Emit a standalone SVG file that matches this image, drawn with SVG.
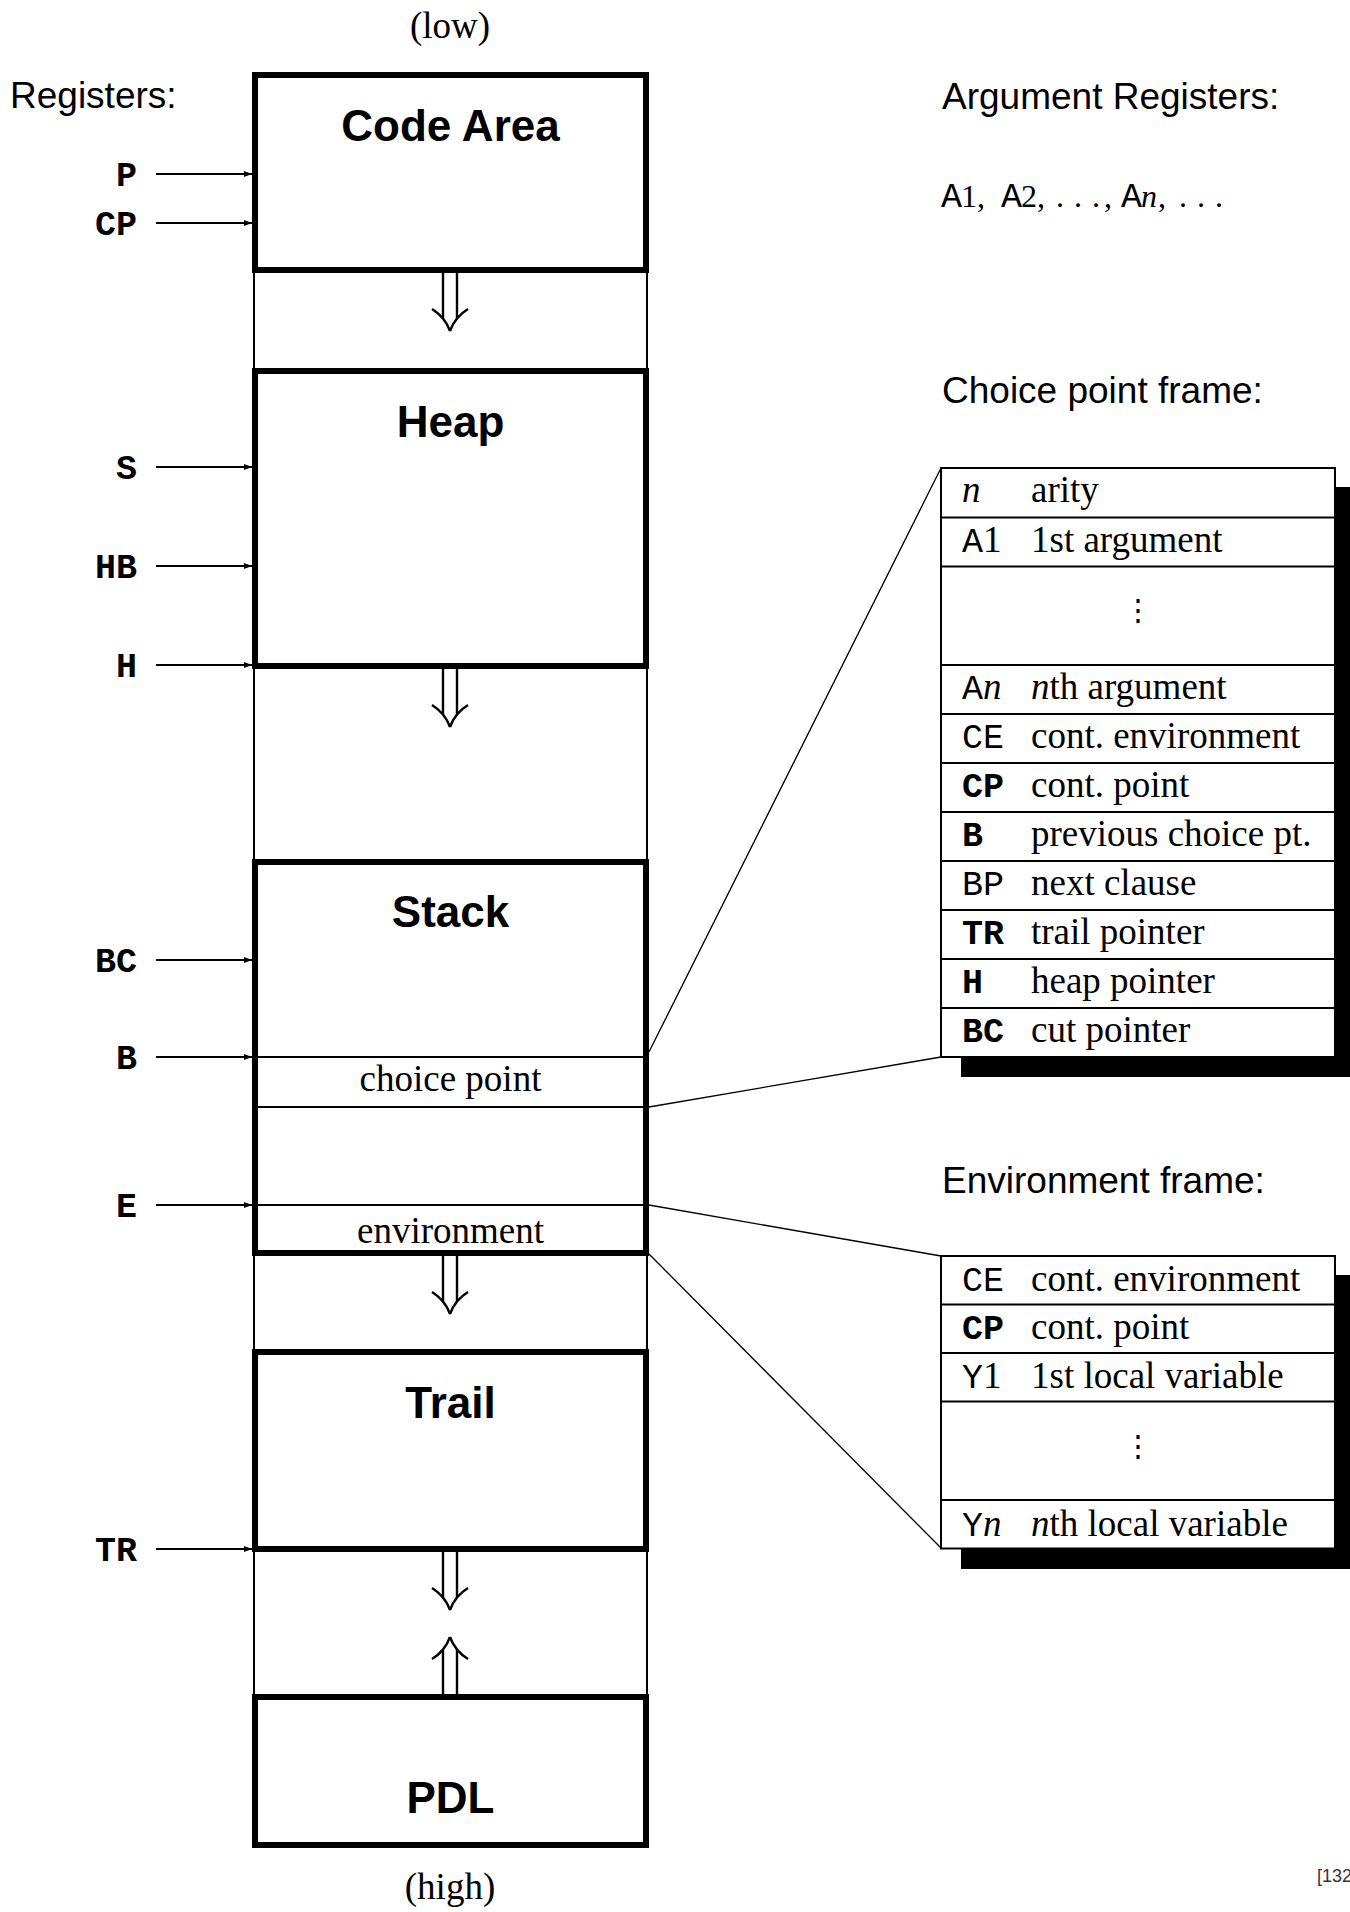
<svg xmlns="http://www.w3.org/2000/svg" width="1350" height="1912" viewBox="0 0 1350 1912">
  <style>
    .box { fill: none; stroke: #000; stroke-width: 6; }
    .thin { fill: none; stroke: #000; stroke-width: 2; }
    .lead { fill: none; stroke: #000; stroke-width: 1.3; }
    .reg { stroke: #000; stroke-width: 2; }
    .title { font-family: "Liberation Sans", Arial, sans-serif; font-weight: bold; font-size: 44px; text-anchor: middle; }
    .head { font-family: "Liberation Sans", Arial, sans-serif; font-size: 37px; }
    .rlabel { font-family: "Liberation Mono", "Courier New", monospace; font-weight: bold; font-size: 35px; text-anchor: end; }
    .rm { font-family: "Liberation Serif", "Times New Roman", serif; font-size: 37px; }
    .tt { font-family: "Liberation Mono", "Courier New", monospace; font-size: 35px; }
    .ttb { font-family: "Liberation Mono", "Courier New", monospace; font-size: 35px; font-weight: bold; }
    .it { font-family: "Liberation Serif", "Times New Roman", serif; font-style: italic; }
    .vdots { font-family: "DejaVu Serif", serif; font-size: 30px; text-anchor: middle; }
    .cell { fill: #fff; stroke: #000; stroke-width: 2; }
    .shadow { fill: #000; }
  </style>
  <defs>
    <marker id="ah" markerWidth="8" markerHeight="6" refX="8" refY="3" orient="auto" markerUnits="userSpaceOnUse">
      <path d="M0,0 L8,3 L0,6 Z" fill="#000"/>
    </marker>
    <!-- double-shafted growth arrow, tip at the origin pointing down -->
    <g id="dbl">
      <path d="M-7,-60 V-12.5 M7,-60 V-12.5 M-18,-22 Q-5,-14 0,0 M18,-22 Q5,-14 0,0" fill="none" stroke="#000" stroke-width="2.4"/>
    </g>
  </defs>

  <!-- address labels -->
  <text class="rm" x="450" y="38" text-anchor="middle">(low)</text>
  <text class="rm" x="450" y="1899" text-anchor="middle">(high)</text>
  <text class="head" x="10" y="108">Registers:</text>

  <!-- free space between areas -->
  <g id="gaps">
    <line class="thin" x1="254" y1="75" x2="254" y2="1845"/>
    <line class="thin" x1="647" y1="75" x2="647" y2="1845"/>
    <use href="#dbl" transform="translate(450,331)"/>
    <use href="#dbl" transform="translate(450,727)"/>
    <use href="#dbl" transform="translate(450,1314)"/>
    <use href="#dbl" transform="translate(450,1610)"/>
    <use href="#dbl" transform="translate(450,1637) scale(1,-1)"/>
  </g>

  <g id="code-area">
    <rect class="box" x="255" y="75" width="391" height="195"/>
    <text class="title" x="450.5" y="141">Code Area</text>
  </g>
  <g id="heap">
    <rect class="box" x="255" y="371" width="391" height="295"/>
    <text class="title" x="450.5" y="437">Heap</text>
  </g>
  <g id="stack">
    <rect class="box" x="255" y="862" width="391" height="391"/>
    <text class="title" x="450.5" y="927">Stack</text>
    <line class="thin" x1="255" y1="1057" x2="646" y2="1057"/>
    <line class="thin" x1="255" y1="1107" x2="646" y2="1107"/>
    <line class="thin" x1="255" y1="1205" x2="646" y2="1205"/>
    <text class="rm" x="450.5" y="1091" text-anchor="middle">choice point</text>
    <text class="rm" x="450.5" y="1243" text-anchor="middle">environment</text>
  </g>
  <g id="trail">
    <rect class="box" x="255" y="1352" width="391" height="197"/>
    <text class="title" x="450.5" y="1418">Trail</text>
  </g>
  <g id="pdl">
    <rect class="box" x="255" y="1697" width="391" height="148"/>
    <text class="title" x="450.5" y="1813">PDL</text>
  </g>

  <!-- register pointers -->
  <g id="registers">
    <text class="rlabel" x="137" y="186">P</text>
    <text class="rlabel" x="137" y="235">CP</text>
    <text class="rlabel" x="137" y="479">S</text>
    <text class="rlabel" x="137" y="578">HB</text>
    <text class="rlabel" x="137" y="677">H</text>
    <text class="rlabel" x="137" y="972">BC</text>
    <text class="rlabel" x="137" y="1069">B</text>
    <text class="rlabel" x="137" y="1217">E</text>
    <text class="rlabel" x="137" y="1561">TR</text>
  </g>
  <g id="connectors">
    <line class="reg" x1="156" y1="174" x2="252" y2="174" marker-end="url(#ah)"/>
    <line class="reg" x1="156" y1="223" x2="252" y2="223" marker-end="url(#ah)"/>
    <line class="reg" x1="156" y1="467" x2="252" y2="467" marker-end="url(#ah)"/>
    <line class="reg" x1="156" y1="566" x2="252" y2="566" marker-end="url(#ah)"/>
    <line class="reg" x1="156" y1="665" x2="252" y2="665" marker-end="url(#ah)"/>
    <line class="reg" x1="156" y1="960" x2="252" y2="960" marker-end="url(#ah)"/>
    <line class="reg" x1="156" y1="1057" x2="252" y2="1057" marker-end="url(#ah)"/>
    <line class="reg" x1="156" y1="1205" x2="252" y2="1205" marker-end="url(#ah)"/>
    <line class="reg" x1="156" y1="1549" x2="252" y2="1549" marker-end="url(#ah)"/>
    <!-- expansion lines from stack frames to their layouts -->
    <line class="lead" x1="649" y1="1052" x2="941" y2="468"/>
    <line class="lead" x1="649" y1="1107" x2="941" y2="1057"/>
    <line class="lead" x1="649" y1="1205" x2="941" y2="1256"/>
    <line class="lead" x1="649" y1="1254" x2="941" y2="1548"/>
  </g>

  <!-- argument registers -->
  <g id="arg-registers">
    <text class="head" x="942" y="109">Argument Registers:</text>
    <text class="rm" y="207" font-size="32"><tspan class="tt" font-size="33" x="941">A</tspan><tspan x="961" font-size="32">1,</tspan><tspan class="tt" font-size="33" x="1001">A</tspan><tspan x="1021" font-size="32">2,</tspan><tspan x="1056" font-size="32">.</tspan><tspan x="1074" font-size="32">.</tspan><tspan x="1092" font-size="32">.</tspan><tspan x="1104" font-size="32">,</tspan><tspan class="tt" font-size="33" x="1121">A</tspan><tspan class="it" x="1141" font-size="32">n</tspan><tspan x="1158" font-size="32">,</tspan><tspan x="1179" font-size="32">.</tspan><tspan x="1197" font-size="32">.</tspan><tspan x="1215" font-size="32">.</tspan></text>
  </g>

  <!-- choice point frame layout -->
  <g id="choice-point-frame">
    <text class="head" x="942" y="403">Choice point frame:</text>
    <rect class="shadow" x="961" y="487" width="400" height="590"/>
    <rect class="cell" x="941" y="468" width="394" height="589"/>
    <g class="thin">
      <line x1="941" y1="517.5" x2="1335" y2="517.5"/>
      <line x1="941" y1="566.5" x2="1335" y2="566.5"/>
      <line x1="941" y1="665" x2="1335" y2="665"/>
      <line x1="941" y1="714" x2="1335" y2="714"/>
      <line x1="941" y1="763" x2="1335" y2="763"/>
      <line x1="941" y1="812" x2="1335" y2="812"/>
      <line x1="941" y1="861" x2="1335" y2="861"/>
      <line x1="941" y1="910" x2="1335" y2="910"/>
      <line x1="941" y1="959" x2="1335" y2="959"/>
      <line x1="941" y1="1008" x2="1335" y2="1008"/>
    </g>
    <text class="rm" y="502"><tspan class="it" x="962">n</tspan><tspan x="1031">arity</tspan></text>
    <text class="rm" y="551.5"><tspan class="tt" x="962">A</tspan><tspan>1</tspan><tspan x="1031">1st argument</tspan></text>
    <text class="vdots" x="1138" y="620">⋮</text>
    <text class="rm" y="699"><tspan class="tt" x="962">A</tspan><tspan class="it">n</tspan><tspan class="it" x="1031">n</tspan><tspan>th argument</tspan></text>
    <text class="rm" y="748"><tspan class="tt" x="962">CE</tspan><tspan x="1031">cont. environment</tspan></text>
    <text class="rm" y="797"><tspan class="ttb" x="962">CP</tspan><tspan x="1031">cont. point</tspan></text>
    <text class="rm" y="846"><tspan class="ttb" x="962">B</tspan><tspan x="1031">previous choice pt.</tspan></text>
    <text class="rm" y="895"><tspan class="tt" x="962">BP</tspan><tspan x="1031">next clause</tspan></text>
    <text class="rm" y="944"><tspan class="ttb" x="962">TR</tspan><tspan x="1031">trail pointer</tspan></text>
    <text class="rm" y="993"><tspan class="ttb" x="962">H</tspan><tspan x="1031">heap pointer</tspan></text>
    <text class="rm" y="1042"><tspan class="ttb" x="962">BC</tspan><tspan x="1031">cut pointer</tspan></text>
  </g>

  <!-- environment frame layout -->
  <g id="environment-frame">
    <text class="head" x="942" y="1193">Environment frame:</text>
    <rect class="shadow" x="961" y="1275" width="400" height="294"/>
    <rect class="cell" x="941" y="1256" width="394" height="292.5"/>
    <g class="thin">
      <line x1="941" y1="1304.5" x2="1335" y2="1304.5"/>
      <line x1="941" y1="1353" x2="1335" y2="1353"/>
      <line x1="941" y1="1401.5" x2="1335" y2="1401.5"/>
      <line x1="941" y1="1500" x2="1335" y2="1500"/>
    </g>
    <text class="rm" y="1291"><tspan class="tt" x="962">CE</tspan><tspan x="1031">cont. environment</tspan></text>
    <text class="rm" y="1339"><tspan class="ttb" x="962">CP</tspan><tspan x="1031">cont. point</tspan></text>
    <text class="rm" y="1388"><tspan class="tt" x="962">Y</tspan><tspan>1</tspan><tspan x="1031">1st local variable</tspan></text>
    <text class="vdots" x="1138" y="1456">⋮</text>
    <text class="rm" y="1536"><tspan class="tt" x="962">Y</tspan><tspan class="it">n</tspan><tspan class="it" x="1031">n</tspan><tspan>th local variable</tspan></text>
  </g>

  <text x="1317" y="1882" font-family="Liberation Sans, sans-serif" font-size="18" fill="#333">[132</text>
</svg>
